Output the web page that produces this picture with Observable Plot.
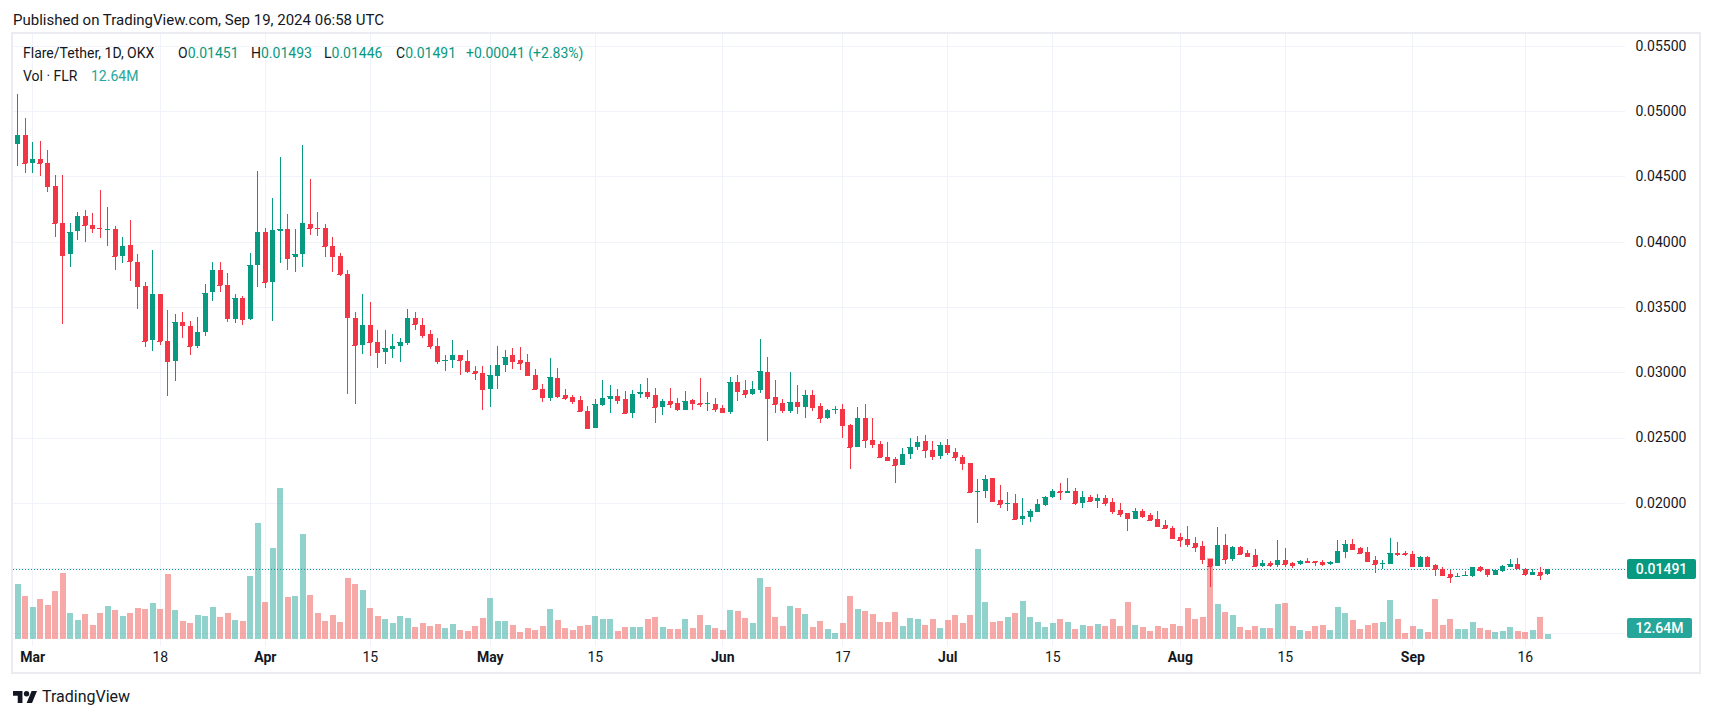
<!DOCTYPE html>
<html><head><meta charset="utf-8">
<script src="https://cdn.jsdelivr.net/npm/d3@7"></script>
<script src="https://cdn.jsdelivr.net/npm/@observablehq/plot@0.6"></script>
<style>
html,body{margin:0;padding:0;background:#fff;}
#root{position:relative;width:1714px;height:718px;overflow:hidden;font-family:Roboto,"Noto Sans",sans-serif;color:#131722;}
.layer{position:absolute;left:0;top:0;}
.abs{position:absolute;white-space:pre;line-height:16px;}
.g{color:#089981;}
.box{position:absolute;color:#fff;font-size:14px;font-weight:500;line-height:20px;height:20px;text-align:center;border-radius:2px;}
</style></head><body><div id="root"></div>
<script>
// ---- data ----
const firstDay = "2024-02-28"; // one candle per day, consecutive
const open = [0.04744,0.04816,0.04599,0.04636,0.04605,0.04427,0.04146,0.03904,0.04079,0.04199,0.04129,0.04107,0.04093,0.04099,0.03887,0.03976,0.03846,0.03662,0.03245,0.03601,0.03242,0.03083,0.03387,0.03356,0.03200,0.03306,0.03612,0.03779,0.03670,0.03406,0.03570,0.03406,0.03818,0.04076,0.03690,0.04079,0.04099,0.03879,0.03904,0.04138,0.04107,0.04107,0.03968,0.03893,0.03754,0.03417,0.03206,0.03364,0.03234,0.03153,0.03181,0.03200,0.03222,0.03412,0.03364,0.03289,0.03203,0.03089,0.03092,0.03128,0.03089,0.03011,0.02997,0.02869,0.02969,0.03053,0.03128,0.03092,0.03081,0.02980,0.02872,0.02805,0.02957,0.02826,0.02810,0.02787,0.02703,0.02574,0.02749,0.02798,0.02818,0.02795,0.02690,0.02833,0.02849,0.02826,0.02736,0.02780,0.02764,0.02713,0.02787,0.02764,0.02757,0.02757,0.02726,0.02698,0.02926,0.02864,0.02833,0.02864,0.03003,0.02810,0.02764,0.02705,0.02772,0.02736,0.02826,0.02743,0.02646,0.02707,0.02720,0.02598,0.02425,0.02651,0.02484,0.02453,0.02354,0.02338,0.02288,0.02372,0.02425,0.02476,0.02407,0.02356,0.02445,0.02392,0.02354,0.02308,0.02081,0.02089,0.02193,0.02018,0.01990,0.01997,0.01875,0.01891,0.01929,0.01982,0.02041,0.02094,0.02074,0.02094,0.01997,0.02048,0.02013,0.02040,0.02003,0.01942,0.01919,0.01876,0.01934,0.01904,0.01876,0.01828,0.01806,0.01740,0.01722,0.01692,0.01669,0.01571,0.01513,0.01677,0.01573,0.01662,0.01616,0.01601,0.01513,0.01540,0.01520,0.01563,0.01540,0.01528,0.01556,0.01551,0.01543,0.01528,0.01540,0.01626,0.01681,0.01651,0.01620,0.01559,0.01531,0.01531,0.01612,0.01612,0.01605,0.01505,0.01582,0.01520,0.01495,0.01452,0.01436,0.01439,0.01439,0.01505,0.01490,0.01446,0.01475,0.01505,0.01528,0.01495,0.01444,0.01467,0.01451];
const high = [0.05128,0.04947,0.04761,0.04772,0.04702,0.04510,0.04510,0.04146,0.04229,0.04243,0.04221,0.04396,0.04268,0.04121,0.04038,0.04168,0.03907,0.03693,0.03932,0.03601,0.03478,0.03448,0.03464,0.03395,0.03425,0.03679,0.03840,0.03840,0.03762,0.03595,0.03584,0.03915,0.04544,0.04107,0.04335,0.04650,0.04213,0.04099,0.04741,0.04483,0.04229,0.04138,0.04038,0.03915,0.03784,0.03464,0.03601,0.03540,0.03320,0.03320,0.03289,0.03264,0.03487,0.03464,0.03417,0.03325,0.03259,0.03128,0.03250,0.03128,0.03167,0.03047,0.03047,0.03058,0.03197,0.03172,0.03189,0.03195,0.03142,0.03028,0.02908,0.03110,0.03033,0.02872,0.02826,0.02818,0.02741,0.02795,0.02941,0.02903,0.02872,0.02857,0.02864,0.02910,0.02957,0.02880,0.02795,0.02880,0.02803,0.02857,0.02795,0.02957,0.02849,0.02803,0.02749,0.02964,0.02980,0.02941,0.02933,0.03257,0.03118,0.02941,0.02795,0.03003,0.02903,0.02864,0.02864,0.02766,0.02715,0.02743,0.02758,0.02606,0.02735,0.02758,0.02651,0.02476,0.02468,0.02349,0.02422,0.02494,0.02514,0.02522,0.02476,0.02468,0.02491,0.02422,0.02364,0.02308,0.02186,0.02216,0.02193,0.02140,0.02079,0.02071,0.02033,0.01949,0.02026,0.02051,0.02109,0.02148,0.02193,0.02117,0.02094,0.02063,0.02068,0.02063,0.02033,0.01995,0.01919,0.01957,0.01950,0.01919,0.01934,0.01866,0.01823,0.01768,0.01823,0.01737,0.01707,0.01571,0.01813,0.01760,0.01669,0.01669,0.01639,0.01646,0.01563,0.01556,0.01715,0.01654,0.01548,0.01563,0.01578,0.01558,0.01563,0.01553,0.01715,0.01715,0.01720,0.01661,0.01658,0.01589,0.01559,0.01727,0.01697,0.01630,0.01628,0.01589,0.01594,0.01528,0.01510,0.01485,0.01464,0.01475,0.01505,0.01513,0.01495,0.01482,0.01520,0.01566,0.01574,0.01498,0.01490,0.01505,0.01493];
const low = [0.04577,0.04522,0.04522,0.04499,0.04377,0.04032,0.03367,0.03804,0.04010,0.03996,0.04063,0.04026,0.03965,0.03782,0.03834,0.03695,0.03481,0.03192,0.03161,0.03206,0.02816,0.02930,0.03261,0.03131,0.03183,0.03275,0.03542,0.03612,0.03384,0.03375,0.03359,0.03398,0.03651,0.03642,0.03389,0.03834,0.03782,0.03765,0.03804,0.04049,0.04040,0.03879,0.03765,0.03734,0.02830,0.02755,0.03139,0.03122,0.03030,0.03061,0.03108,0.03078,0.03206,0.03323,0.03261,0.03175,0.03061,0.03008,0.03030,0.02978,0.02997,0.02939,0.02708,0.02733,0.02869,0.03000,0.03022,0.03014,0.02978,0.02861,0.02774,0.02782,0.02803,0.02790,0.02757,0.02698,0.02567,0.02574,0.02741,0.02690,0.02759,0.02690,0.02651,0.02803,0.02798,0.02613,0.02674,0.02728,0.02705,0.02713,0.02713,0.02736,0.02705,0.02698,0.02698,0.02682,0.02782,0.02805,0.02826,0.02844,0.02474,0.02690,0.02690,0.02690,0.02682,0.02651,0.02705,0.02608,0.02643,0.02677,0.02494,0.02257,0.02425,0.02417,0.02417,0.02341,0.02326,0.02150,0.02288,0.02333,0.02402,0.02341,0.02326,0.02333,0.02364,0.02318,0.02249,0.02081,0.01845,0.02036,0.02013,0.01959,0.01936,0.01875,0.01830,0.01852,0.01929,0.01975,0.02036,0.02020,0.02074,0.01982,0.01959,0.02013,0.01960,0.01972,0.01914,0.01891,0.01785,0.01876,0.01884,0.01861,0.01823,0.01800,0.01725,0.01664,0.01664,0.01626,0.01528,0.01354,0.01513,0.01528,0.01558,0.01604,0.01593,0.01513,0.01505,0.01505,0.01505,0.01505,0.01497,0.01520,0.01540,0.01513,0.01518,0.01520,0.01540,0.01581,0.01638,0.01607,0.01546,0.01462,0.01492,0.01531,0.01592,0.01592,0.01510,0.01505,0.01513,0.01439,0.01444,0.01385,0.01434,0.01436,0.01434,0.01469,0.01431,0.01446,0.01469,0.01505,0.01492,0.01439,0.01444,0.01408,0.01446];
const close = [0.04816,0.04599,0.04636,0.04599,0.04424,0.04140,0.03896,0.04076,0.04199,0.04124,0.04102,0.04102,0.04099,0.03887,0.03968,0.03848,0.03659,0.03236,0.03601,0.03236,0.03083,0.03387,0.03359,0.03200,0.03311,0.03609,0.03779,0.03665,0.03414,0.03570,0.03406,0.03823,0.04076,0.03690,0.04085,0.04099,0.03873,0.03907,0.04146,0.04102,0.04102,0.03965,0.03887,0.03751,0.03420,0.03206,0.03364,0.03231,0.03153,0.03189,0.03203,0.03228,0.03412,0.03367,0.03284,0.03200,0.03083,0.03097,0.03128,0.03092,0.03008,0.02991,0.02869,0.02975,0.03058,0.03119,0.03083,0.03069,0.02978,0.02869,0.02808,0.02964,0.02821,0.02805,0.02782,0.02705,0.02574,0.02757,0.02803,0.02818,0.02790,0.02690,0.02833,0.02849,0.02818,0.02736,0.02780,0.02759,0.02721,0.02780,0.02764,0.02757,0.02764,0.02721,0.02698,0.02926,0.02859,0.02836,0.02872,0.03010,0.02805,0.02759,0.02713,0.02772,0.02744,0.02826,0.02736,0.02646,0.02712,0.02720,0.02593,0.02425,0.02651,0.02478,0.02448,0.02349,0.02326,0.02288,0.02377,0.02430,0.02468,0.02402,0.02356,0.02445,0.02387,0.02349,0.02303,0.02081,0.02089,0.02186,0.02013,0.01990,0.01997,0.01875,0.01896,0.01934,0.01987,0.02048,0.02094,0.02081,0.02087,0.01997,0.02048,0.02013,0.02040,0.01997,0.01937,0.01914,0.01884,0.01934,0.01899,0.01869,0.01823,0.01808,0.01730,0.01717,0.01687,0.01664,0.01566,0.01513,0.01677,0.01573,0.01662,0.01611,0.01596,0.01513,0.01540,0.01520,0.01563,0.01535,0.01520,0.01556,0.01548,0.01545,0.01528,0.01548,0.01631,0.01684,0.01643,0.01615,0.01554,0.01531,0.01536,0.01612,0.01605,0.01607,0.01513,0.01582,0.01515,0.01495,0.01444,0.01431,0.01441,0.01444,0.01505,0.01485,0.01452,0.01482,0.01513,0.01528,0.01498,0.01452,0.01467,0.01450,0.01491];
const volumeM = [139.8,109.5,81.0,101.2,86.5,121.4,167.4,66.2,48.8,63.5,35.9,66.2,83.7,73.6,58.9,66.2,79.1,76.4,91.1,76.4,164.7,73.6,46.0,40.5,60.7,58.9,81.0,56.1,66.2,48.8,46.0,160.1,293.5,93.8,230.9,382.7,
106.7,109.5,265.9,111.3,66.2,46.0,60.7,43.2,154.6,139.8,124.2,79.1,58.9,50.6,40.5,58.9,53.4,30.4,40.5,33.1,38.6,28.5,38.6,23.0,20.2,33.1,53.4,104.0,46.0,46.0,35.9,18.4,28.5,23.0,33.1,76.4,
48.1,27.8,22.8,32.9,35.4,58.2,50.6,50.6,20.2,30.3,30.3,30.3,50.6,55.6,30.3,25.3,25.3,50.6,27.8,60.7,35.4,27.8,22.8,73.3,70.8,53.1,40.5,154.3,131.5,55.6,32.9,83.5,78.4,63.2,30.3,45.5,
24.4,14.3,39.6,107.9,75.0,70.0,62.4,42.2,42.2,67.4,32.0,52.3,49.7,34.6,49.7,27.0,47.2,59.9,39.6,59.9,226.8,92.7,42.2,44.7,54.8,64.9,95.3,54.8,42.2,29.5,39.6,49.7,42.2,24.4,
35.4,32.9,37.9,32.9,50.6,32.9,93.6,35.4,30.3,20.2,32.9,27.8,37.9,32.9,78.4,50.6,55.6,204.8,88.5,68.3,60.7,30.3,22.8,32.9,27.8,27.8,88.5,91.0,32.9,22.8,20.2,32.9,35.4,22.8,80.9,
65.8,48.1,25.3,35.4,40.5,43.0,98.6,50.6,15.2,32.9,25.3,17.7,101.2,35.4,50.6,25.3,25.3,43.0,27.8,22.8,17.7,20.2,30.3,20.2,17.7,22.8,55.6,12.64];
const gridPrices = [0.010,0.015,0.020,0.025,0.030,0.035,0.040,0.045,0.050,0.055];
const labelPrices = [0.020,0.025,0.030,0.035,0.040,0.045,0.050,0.055];
const monthTicks = ["2024-03-01","2024-04-01","2024-05-01","2024-06-01","2024-07-01","2024-08-01","2024-09-01"];
const monthLabels = ["Mar","Apr","May","Jun","Jul","Aug","Sep"];
const dayTicks = ["2024-03-18","2024-04-15","2024-05-15","2024-06-17","2024-07-15","2024-08-15","2024-09-16"];
const dayLabels = ["18","15","15","17","15","15","16"];
const title = "Published on TradingView.com, Sep 19, 2024 06:58 UTC";
const symbolText = "Flare/Tether, 1D, OKX";
const ohlcLegend = [["O","0.01451"],["H","0.01493"],["L","0.01446"],["C","0.01491"]];
const changeText = "+0.00041 (+2.83%)";
const volText = "Vol · FLR";
const lastVolText = "12.64M";

// ---- build ----
const UP = "#089981", DOWN = "#f23645", VUP = "#26a69a", VDOWN = "#ef5350", GRID = "#f0f3fa";
const t0 = new Date(firstDay + "T00:00:00Z");
const candles = open.map((o, i) => ({
  date: d3.utcDay.offset(t0, i), open: o, high: high[i], low: low[i], close: close[i],
  volume: volumeM[i], up: close[i] >= o
}));
const last = candles[candles.length - 1];
const W = 1714, H = 718;
const frame = {width: W, height: H, marginTop: 34, marginBottom: 72, marginLeft: 13, marginRight: 89};
const xOpt = {type: "utc", domain: [candles[0].date, last.date], range: [17.3, 1547.3], axis: null};
const yOpt = {domain: [0.010, 0.055], range: [633.4, 45.7], axis: null};
const style = {background: "transparent", fontFamily: "Roboto, 'Noto Sans', sans-serif", overflow: "visible", color: "#131722"};
const pd = s => new Date(s + "T00:00:00Z");

const root = document.getElementById("root");
function addLayer(svg) { svg.classList.add("layer"); root.appendChild(svg); return svg; }

// layer 1: grid + axes
const gridPlot = Plot.plot({
  ...frame, x: xOpt, y: yOpt, style,
  marks: [
    Plot.ruleY(gridPrices, {y: d => d, stroke: GRID, strokeWidth: 1, shapeRendering: "crispEdges"}),
    Plot.ruleX(monthTicks.concat(dayTicks).map(pd), {x: d => d, stroke: GRID, strokeWidth: 1, shapeRendering: "crispEdges"}),
    Plot.text(labelPrices, {y: d => d, frameAnchor: "right", textAnchor: "start", dx: 10, text: d => d.toFixed(5), fontSize: 14, fill: "#131722"}),
    Plot.text(monthTicks.map(pd), {x: d => d, frameAnchor: "bottom", lineAnchor: "middle", dy: 11, text: (d, i) => monthLabels[i], fontSize: 14, fontWeight: "bold", fill: "#131722"}),
    Plot.text(dayTicks.map(pd), {x: d => d, frameAnchor: "bottom", lineAnchor: "middle", dy: 11, text: (d, i) => dayLabels[i], fontSize: 14, fill: "#131722"})
  ]
});
addLayer(gridPlot);

// layer 2: volume
const volPlot = Plot.plot({
  ...frame, x: xOpt, y: {domain: [0, 400], range: [639, 639 - 400 / 2.53], axis: null}, style,
  marks: [
    Plot.ruleX(candles, {x: "date", y1: 0, y2: "volume", stroke: d => d.up ? VUP : VDOWN, strokeOpacity: 0.5, strokeWidth: 6, shapeRendering: "crispEdges"})
  ]
});
addLayer(volPlot);

// layer 3: candles
const candlePlot = Plot.plot({
  ...frame, x: xOpt, y: yOpt, style,
  marks: [
    Plot.ruleY([last.close], {y: d => d, stroke: UP, strokeWidth: 1, strokeDasharray: "1,2", shapeRendering: "crispEdges"}),
    Plot.ruleX(candles, {x: "date", y1: "low", y2: "high", stroke: d => d.up ? UP : DOWN, strokeWidth: 1, shapeRendering: "crispEdges"}),
    Plot.ruleX(candles, {x: "date", y1: "open", y2: "close", stroke: d => d.up ? UP : DOWN, strokeWidth: 5, shapeRendering: "crispEdges"}),
    Plot.ruleY(candles, {y: "close", x1: d => d3.utcHour.offset(d.date, -8), x2: d => d3.utcHour.offset(d.date, 8), stroke: d => d.up ? UP : DOWN, strokeWidth: 1, shapeRendering: "crispEdges"})
  ]
});
addLayer(candlePlot);

// html overlays
function el(html, css, cls) { const d = document.createElement("div"); d.className = cls || "abs"; d.innerHTML = html; Object.assign(d.style, css); root.appendChild(d); return d; }
el("", {left: "11px", top: "32px", width: "1690px", height: "642px", border: "2px solid #ebecf2", boxSizing: "border-box", pointerEvents: "none"}, "abs");
el(title, {left: "13px", top: "12px", fontSize: "15px", lineHeight: "17px"});
el(symbolText, {left: "23px", top: "45px", fontSize: "14px"});
const legX = [178, 251, 324, 396];
ohlcLegend.forEach(([k, v], i) => el(k + '<span class="g">' + v + '</span>', {left: legX[i] + "px", top: "45px", fontSize: "14px"}));
el('<span class="g">' + changeText + '</span>', {left: "466px", top: "45px", fontSize: "14px"});
el(volText, {left: "23px", top: "68px", fontSize: "14px"});
el('<span style="color:#26a69a">' + lastVolText + '</span>', {left: "91px", top: "68px", fontSize: "14px"});

const yPrice = candlePlot.scale("y").apply(last.close);
el(last.close.toFixed(5), {left: "1627px", top: (yPrice - 10) + "px", width: "69px", background: UP}, "box");
const yVol = volPlot.scale("y").apply(last.volume);
el(lastVolText, {left: "1627px", top: Math.min(yVol - 10, 618) + "px", width: "65px", background: VUP}, "box");

// TradingView logo
el('<svg width="24" height="12.3" viewBox="0 4 35.5 18" style="vertical-align:middle"><path fill="#131722" d="M14 22H7V11H0V4h14v18z"/><circle fill="#131722" cx="20" cy="8" r="4"/><path fill="#131722" d="M28 22h-8l7.5-18h8L28 22z"/></svg>', {left: "13px", top: "688px", lineHeight: "16px"});
el("TradingView", {left: "42px", top: "688px", fontSize: "16px", lineHeight: "18px"});
</script>
</body></html>
